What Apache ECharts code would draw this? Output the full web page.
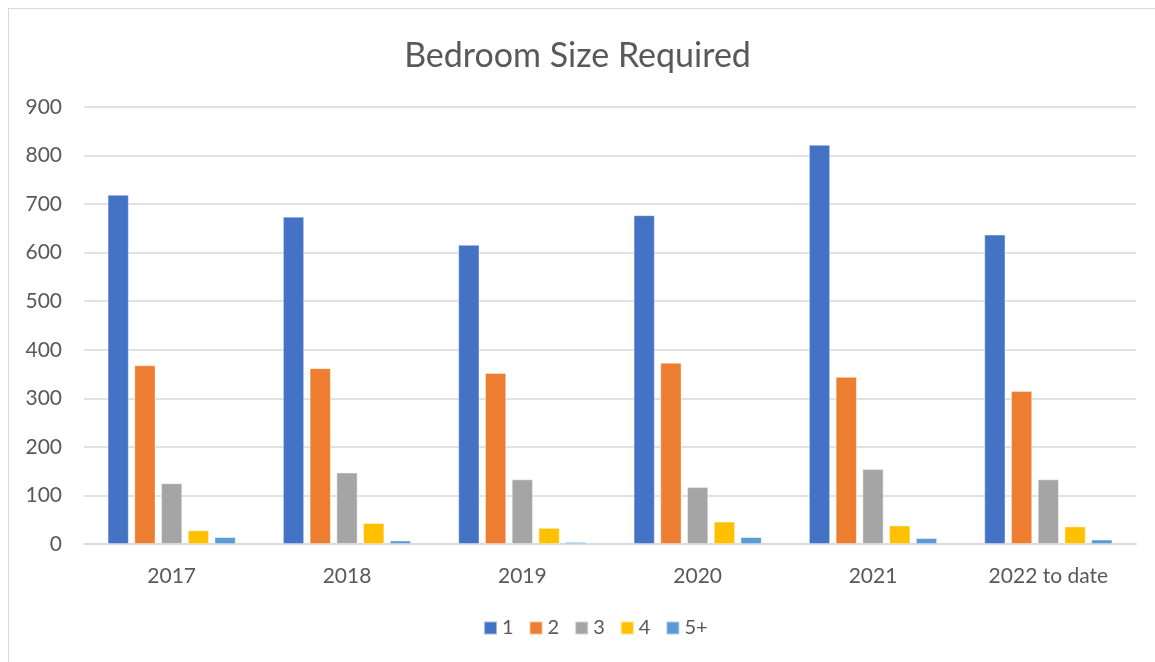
<!DOCTYPE html>
<html>
<head>
<meta charset="utf-8">
<script src="https://cdn.jsdelivr.net/npm/echarts@6/dist/echarts.min.js"></script>
<style>
  html, body { margin: 0; padding: 0; background: #fff; }
  #frame { position: absolute; left: 8px; top: 8px; width: 1160px; height: 660px; border: 1px solid #d9d9d9; box-sizing: border-box; }
  #chart { position: absolute; left: 0; top: 0; width: 1155px; height: 662px; }
</style>
</head>
<body>
<div id="frame"></div>
<div id="chart"></div>
<script>
// categories and series values
var years = ['2017', '2018', '2019', '2020', '2021', '2022 to date']
var bed1 = [719, 674, 616, 677, 822, 637]
var bed2 = [368, 362, 352, 373, 344, 315]
var bed3 = [125, 147, 133, 117, 154, 133]
var bed4 = [28, 43, 33, 46, 38, 36]
var bed5 = [14, 7, 4, 14, 12, 9]
var seriesNames = ['1', '2', '3', '4', '5+']
var colors = ['#4472c4', '#ed7d31', '#a5a5a5', '#ffc000', '#5b9bd5']

var font = 'Lato, "Open Sans", sans-serif'
var myChart = echarts.init(document.getElementById('chart'))

function makeSeries(name, data) {
  return {
    name: name,
    type: 'bar',
    barGap: '27%',
    barCategoryGap: '27%',
    itemStyle: { borderColor: 'rgba(255,255,255,0.5)', borderWidth: 0.8 },
    data: data
  }
}

var option = {
  animation: false,
  color: colors,
  title: {
    text: 'Bedroom Size Required',
    left: 'center',
    top: 34,
    textStyle: { color: '#595959', fontSize: 34, fontWeight: 'normal', fontFamily: font }
  },
  legend: {
    bottom: 19,
    left: 478,
    itemWidth: 13,
    itemHeight: 13,
    itemGap: 15,
    icon: 'rect',
    textStyle: { color: '#595959', fontSize: 20, fontFamily: font },
    data: seriesNames
  },
  grid: { left: 84, right: 19, top: 107, bottom: 118 },
  xAxis: {
    type: 'category',
    data: years,
    axisLine: { lineStyle: { color: '#d9d9d9', width: 1.5 } },
    axisTick: { show: false },
    axisLabel: { color: '#595959', fontSize: 21, fontFamily: font, margin: 22 }
  },
  yAxis: {
    type: 'value',
    min: 0,
    max: 900,
    interval: 100,
    axisLine: { show: false },
    axisTick: { show: false },
    axisLabel: { color: '#595959', fontSize: 21, fontFamily: font, margin: 22 },
    splitLine: { lineStyle: { color: '#d9d9d9', width: 1.5 } }
  },
  series: [
    makeSeries(seriesNames[0], bed1),
    makeSeries(seriesNames[1], bed2),
    makeSeries(seriesNames[2], bed3),
    makeSeries(seriesNames[3], bed4),
    makeSeries(seriesNames[4], bed5)
  ]
}
myChart.setOption(option)
</script>
</body>
</html>
